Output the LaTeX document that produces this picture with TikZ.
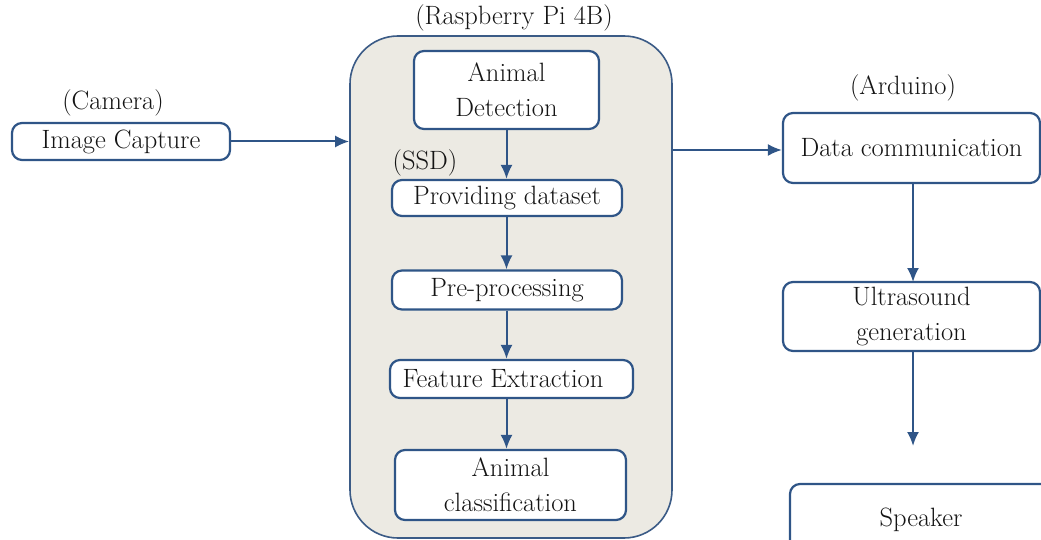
\documentclass[tikz,border=0pt]{standalone}
\usetikzlibrary{arrows.meta}
\definecolor{lineblue}{HTML}{2F5587}
\definecolor{panel}{HTML}{ECEAE3}
\definecolor{txt}{HTML}{141414}
\tikzset{
  box/.style={draw=lineblue, line width=2.2pt, rounded corners=10pt, fill=white,
    text=txt, align=center, inner sep=0pt, font=\fontsize{26.5}{35}\selectfont},
  lbl/.style={text=txt, inner sep=0pt, font=\fontsize{26.5}{30}\selectfont},
  arr/.style={draw=lineblue, line width=2pt, -{Latex[length=14pt,width=12pt]}},
}
\begin{document}
\begin{tikzpicture}[x=1pt,y=-1pt]
\useasboundingbox (0,0) rectangle (1041,540);
\clip (0,0) rectangle (1041,540);
% panel
\node[draw=lineblue!85!gray, line width=1.6pt, fill=panel, rounded corners=48pt,
  minimum width=322pt, minimum height=502pt, inner sep=0pt] (pi) at (511,287) {};
\node[lbl] (pilbl) at (514,18) {(Raspberry Pi 4B)};
% camera
\node[lbl] (camlbl) at (113,103) {(Camera)};
\node[box, minimum width=218pt, minimum height=37pt] (cap) at (121,141.5) {Image Capture};
% inside pi
\node[box, minimum width=185pt, minimum height=78pt] (det) at (506.5,90) {Animal\\Detection};
\node[lbl] (ssd) at (425,163) {(SSD)};
\node[box, minimum width=230pt, minimum height=36pt] (data) at (507,198) {Providing dataset};
\node[box, minimum width=230pt, minimum height=39pt] (pre) at (507,290) {Pre-processing};
\node[box, minimum width=243pt, minimum height=38pt] (feat) at (511.5,379) {Feature Extraction\hspace*{17pt}};
\node[box, minimum width=231pt, minimum height=70pt] (cls) at (510.5,485) {Animal\\classification};
% arduino
\node[lbl] (ardlbl) at (903,88) {(Arduino)};
\node[box, minimum width=257pt, minimum height=70pt] (com) at (911.5,148) {Data communication};
\node[box, minimum width=257pt, minimum height=69pt] (ult) at (911.5,316.5) {Ultrasound\\generation};
\node[box, minimum width=262pt, minimum height=72pt] (spk) at (921,520) {Speaker};
\coordinate (spkin) at (913,446);
% arrows
\draw[arr] (cap.east) -- (pi.west |- cap.east);
\draw[arr] (det.south) -- (det.south |- data.north);
\draw[arr] (data.south -| det.south) -- (det.south |- pre.north);
\draw[arr] (pre.south -| det.south) -- (det.south |- feat.north);
\draw[arr] (feat.south -| det.south) -- (det.south |- cls.north);
\draw[arr] (pi.east |- 0,150) -- (com.west |- 0,150);
\draw[arr] (913,183) -- (913,282);
\draw[arr] (ult.south -| spkin) -- (spkin);
\end{tikzpicture}
\end{document}
